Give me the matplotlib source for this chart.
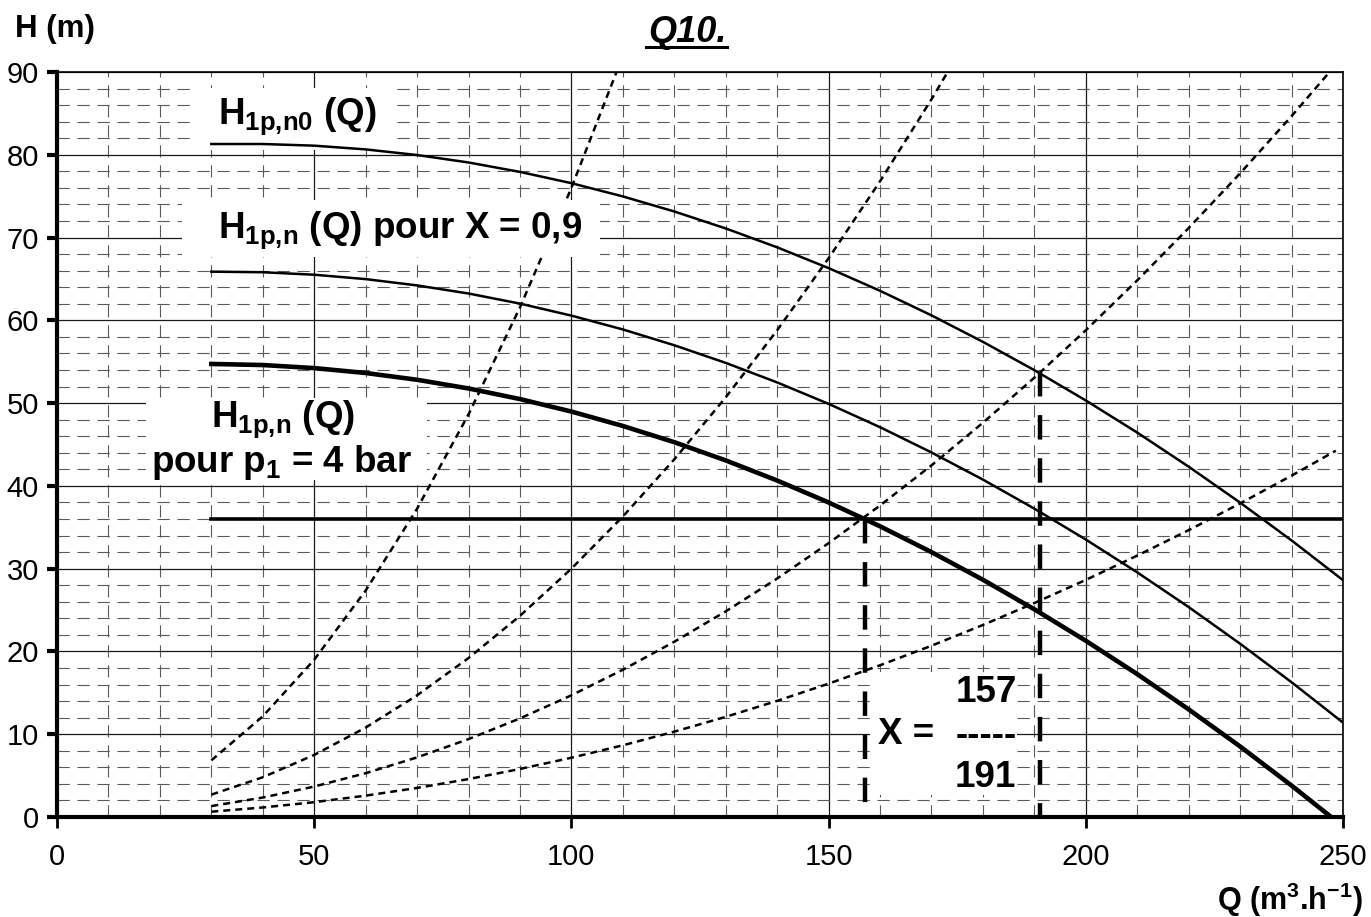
import matplotlib
matplotlib.use('Agg')
import matplotlib.pyplot as plt
from matplotlib.patches import Rectangle
from matplotlib.lines import Line2D
import numpy as np

# ---------------- data ----------------
q_pump = [30, 40, 50, 60, 70, 80, 90, 100, 110, 120, 130, 140, 150, 160, 170,
          180, 190, 200, 210, 220, 230, 240, 250]
h_n0 = [81.3, 81.3, 81.1, 80.65, 79.97, 79.07, 77.93, 76.57, 74.97, 73.15, 71.1,
        68.82, 66.31, 63.57, 60.6, 57.4, 53.98, 50.32, 46.44, 42.32, 37.98, 33.41, 28.61]
h_x09 = [65.88, 65.81, 65.51, 64.98, 64.22, 63.24, 62.02, 60.57, 58.9, 56.99, 54.86,
         52.5, 49.91, 47.09, 44.04, 40.76, 37.25, 33.52, 29.55, 25.36, 20.93, 16.28, 11.4]
q_p4 = [30, 40, 50, 60, 70, 80, 90, 100, 110, 120, 130, 140, 150, 160, 170,
        180, 190, 200, 210, 220, 230, 240, 247.7]
h_p4 = [54.73, 54.6, 54.23, 53.64, 52.82, 51.77, 50.49, 48.98, 47.24, 45.28, 43.08,
        40.65, 38.0, 35.12, 32.0, 28.66, 25.09, 21.29, 17.26, 13.0, 8.52, 3.8, 0.0]

# system (network) curves
q_sys_a = [30, 40, 50, 60, 70, 80, 90, 100, 110]
h_sys_a = [6.84, 12.16, 19.0, 27.36, 37.24, 48.64, 61.56, 76.0, 91.96]
q_sys_b = [30, 40, 50, 60, 70, 80, 90, 100, 110, 120, 130, 140, 150, 160, 170, 180]
h_sys_b = [2.7, 4.8, 7.5, 10.8, 14.7, 19.2, 24.3, 30.0, 36.3, 43.2, 50.7, 58.8,
           67.5, 76.8, 86.7, 97.2]
q_sys_c = [30, 40, 50, 60, 70, 80, 90, 100, 110, 120, 130, 140, 150, 160, 170,
           180, 190, 200, 210, 220, 230, 240, 250]
h_sys_c = [1.32, 2.35, 3.68, 5.29, 7.2, 9.41, 11.91, 14.7, 17.79, 21.17, 24.84, 28.81,
           33.08, 37.63, 42.48, 47.63, 53.07, 58.8, 64.83, 71.15, 77.76, 84.67, 91.88]
q_sys_d = [30, 40, 50, 60, 70, 80, 90, 100, 110, 120, 130, 140, 150, 160, 170,
           180, 190, 200, 210, 220, 230, 240, 248.6]
h_sys_d = [0.64, 1.15, 1.79, 2.58, 3.51, 4.58, 5.8, 7.16, 8.66, 10.31, 12.1, 14.03,
           16.11, 18.33, 20.69, 23.2, 25.85, 28.64, 31.58, 34.65, 37.88, 41.24, 44.25]

h_target = 36
q_target = [30, 250]
q_op = [157, 191]
h_op = [36.0, 53.7]

x_ticks = [0, 50, 100, 150, 200, 250]
y_ticks = [0, 10, 20, 30, 40, 50, 60, 70, 80, 90]

title = 'Q10.'
ylabel = 'H (m)'
xlabel = r'Q (m$^{3}$.h$^{-1}$)'
label_n0 = r'H$_{1p{,}n0}$ (Q)'
label_x09 = r'H$_{1p{,}n}$ (Q) pour X = 0,9'
label_p4_1 = r'H$_{1p{,}n}$ (Q)'
label_p4_2 = r'pour p$_{1}$ = 4 bar'
x_num, x_den = '157', '191'

# ---------------- style ----------------
plt.rcParams['font.family'] = ['Liberation Sans', 'DejaVu Sans']
plt.rcParams['mathtext.fontset'] = 'custom'
plt.rcParams['mathtext.rm'] = 'Liberation Sans:bold'
plt.rcParams['mathtext.it'] = 'Liberation Sans:bold'
plt.rcParams['mathtext.bf'] = 'Liberation Sans:bold'
plt.rcParams['mathtext.sf'] = 'Liberation Sans:bold'
plt.rcParams['mathtext.default'] = 'rm'

W, H = 1371, 917
fig = plt.figure(figsize=(W / 100, H / 100), dpi=100)
ax = fig.add_axes([57 / W, 1 - 817 / H, (1343 - 57) / W, (817 - 72) / H])


def P(px, py):
    return (px / W, 1 - py / H)


ax.set_xlim(0, 250)
ax.set_ylim(0, 90)
ax.set_xticks(x_ticks)
ax.set_xticks(np.arange(0, 251, 10), minor=True)
ax.set_yticks(y_ticks)
ax.set_yticks(np.arange(0, 91, 2), minor=True)
ax.set_axisbelow(True)
ax.grid(which='major', color='#1a1a1a', lw=0.9, ls='-')
ax.grid(which='minor', color='#5a5a5a', lw=0.8, ls=(0, (11, 7)))
ax.tick_params(which='minor', length=0)
ax.tick_params(axis='y', which='major', direction='out', length=7, width=3,
               labelsize=21, pad=6)
ax.tick_params(axis='x', which='major', direction='out', length=8, width=2,
               labelsize=21, pad=11)
for s in ['left', 'bottom']:
    ax.spines[s].set_linewidth(3)
for s in ['top', 'right']:
    ax.spines[s].set_linewidth(1.2)

# system curves
sys_style = dict(color='black', lw=1.8, ls=(0, (2.8, 2.0)), zorder=2, clip_on=True)
ax.plot(q_sys_a, h_sys_a, **sys_style)
ax.plot(q_sys_b, h_sys_b, **sys_style)
ax.plot(q_sys_c, h_sys_c, **sys_style)
ax.plot(q_sys_d, h_sys_d, **sys_style)

# white label boxes
def box(x0, y0, x1, y1):
    ax.add_patch(Rectangle(P(x0, y1), (x1 - x0) / W, (y1 - y0) / H,
                           transform=fig.transFigure, facecolor='white',
                           edgecolor='none', zorder=3))

box(197, 88, 395, 150)
box(182, 200, 600, 257)
box(146, 398, 427, 480)
box(870, 672, 1017, 795)

# pump curves
ax.plot(q_pump, h_n0, color='black', lw=1.8, zorder=4)
ax.plot(q_pump, h_x09, color='black', lw=1.8, zorder=4)
ax.plot(q_p4, h_p4, color='black', lw=3.3, zorder=4)
ax.plot(q_target, [h_target, h_target], color='black', lw=2.6, zorder=4)
for q, h in zip(q_op, h_op):
    ax.plot([q, q], [h, 0], color='black', lw=3.2, ls=(0, (5.5, 4.2)), zorder=4,
            solid_capstyle='butt')

# labels
tk = dict(transform=fig.transFigure, fontsize=26.5, fontweight='bold', zorder=5,
          color='black')
ax.text(*P(218, 124), label_n0, ha='left', va='baseline', **tk)
ax.text(*P(218, 238), label_x09, ha='left', va='baseline', **tk)
ax.text(*P(283, 427), label_p4_1, ha='center', va='baseline', **tk)
ax.text(*P(282, 472), label_p4_2, ha='center', va='baseline', **tk)
ax.text(*P(878, 744), 'X =', ha='left', va='baseline', **tk)
ax.text(*P(986, 702), x_num, ha='center', va='baseline', **tk)
ax.text(*P(986, 745), '-----', ha='center', va='baseline', **tk)
ax.text(*P(985, 787), x_den, ha='center', va='baseline', **tk)

# outer texts
fig.text(*P(15, 37), ylabel, ha='left', va='baseline', fontsize=22.5, fontweight='bold')
fig.text(*P(1363, 910), xlabel, ha='right', va='baseline', fontsize=22, fontweight='bold')
fig.text(*P(687, 42), title, ha='center', va='baseline', fontsize=26,
         fontweight='bold', fontstyle='italic')
fig.add_artist(Line2D([646 / W, 727 / W], [1 - 46.5 / H] * 2, lw=2.2, color='black'))

fig.savefig('out.png', dpi=100)
